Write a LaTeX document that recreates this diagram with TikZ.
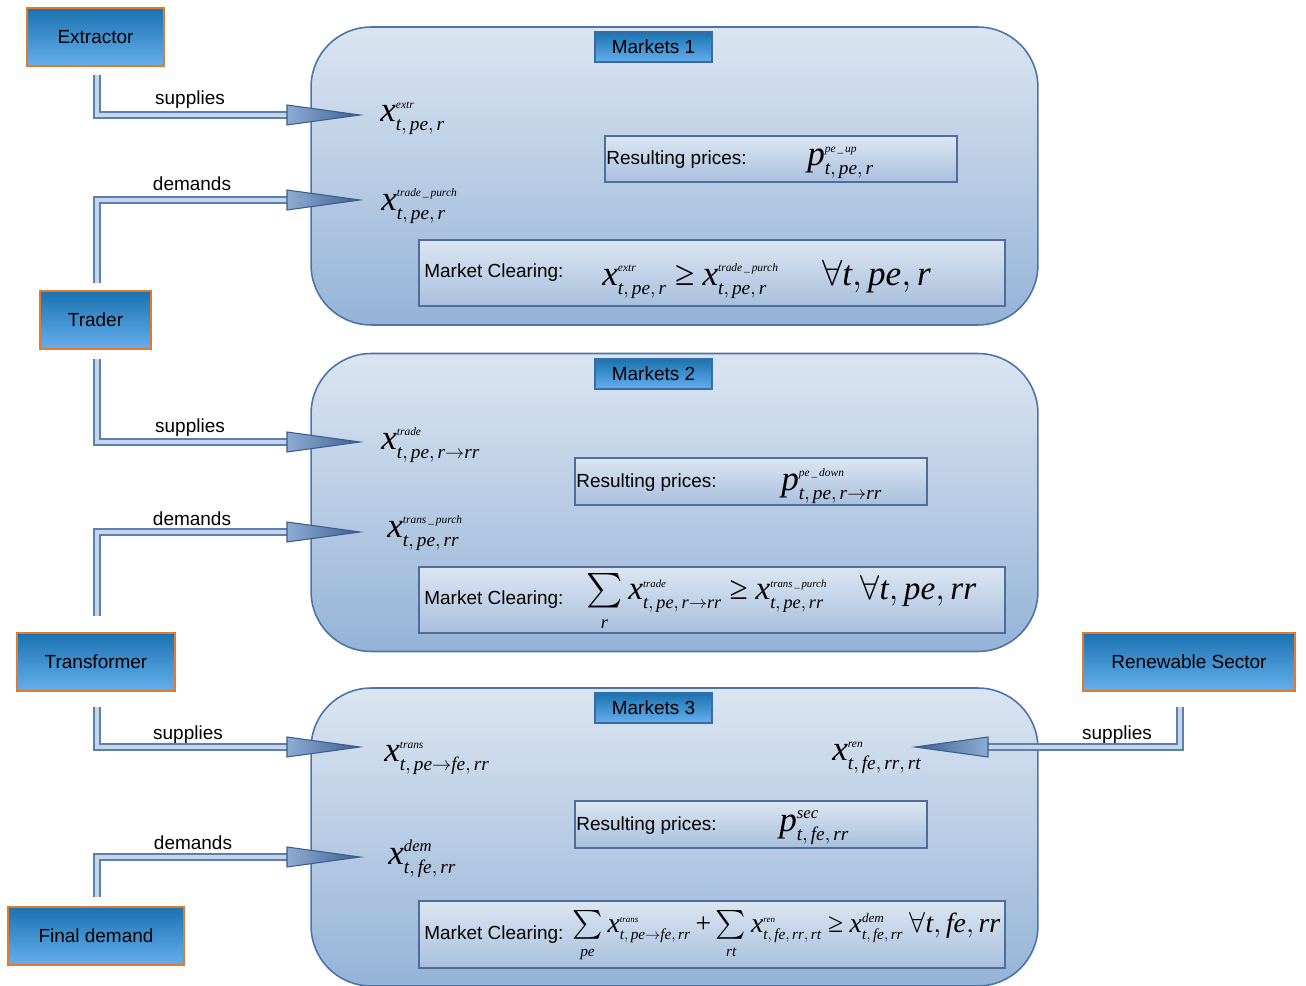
\documentclass[tikz,border=0pt]{standalone}
\usepackage{amsmath}
\usepackage{fontspec}
\setmainfont{Liberation Sans}
\newfontfamily\tms[NFSSFamily=tmsfam]{Liberation Serif}
\usetikzlibrary{calc}

% Times-like italic letters in the formulas
\DeclareSymbolFont{tmsletters}{TU}{tmsfam}{m}{it}
\DeclareMathSymbol{x}{\mathalpha}{tmsletters}{`x}
\DeclareMathSymbol{p}{\mathalpha}{tmsletters}{`p}
\DeclareMathSymbol{t}{\mathalpha}{tmsletters}{`t}
\DeclareMathSymbol{e}{\mathalpha}{tmsletters}{`e}
\DeclareMathSymbol{r}{\mathalpha}{tmsletters}{`r}
\DeclareMathSymbol{f}{\mathalpha}{tmsletters}{`f}
\DeclareMathSizes{20}{20}{11}{8}

\definecolor{actortop}{HTML}{1A73B0}
\definecolor{actorbot}{HTML}{66AEEE}
\definecolor{actorline}{HTML}{E27A2E}
\definecolor{titleline}{HTML}{3B6BA5}
\definecolor{mkttop}{HTML}{DBE5F1}
\definecolor{mktbot}{HTML}{95B3D7}
\definecolor{mktline}{HTML}{4A74AA}
\definecolor{boxtop}{HTML}{DCE6F2}
\definecolor{boxbot}{HTML}{A8BFDD}
\definecolor{boxline}{HTML}{4D6E9A}
\definecolor{shaftline}{HTML}{5A7FB0}
\definecolor{shaftfill}{HTML}{C5D5EA}
\definecolor{headlight}{HTML}{8EACD3}
\definecolor{headdark}{HTML}{3C5F91}
\definecolor{headline}{HTML}{3B5C8C}

\newcommand\mathsz{\fontsize{20}{22}\selectfont\thickmuskip=4mu\medmuskip=3mu}
\newcommand\tsup[1]{\text{\fontsize{6.5}{7}\selectfont\tms\itshape #1}}
\newcommand\bsup[1]{\text{\fontsize{9.5}{10}\selectfont\tms\itshape #1}}
\newcommand\tge{\mathrel{\text{\tms ≥}}}
\newcommand\tplus{\mathbin{\text{\tms +}}}

\tikzset{
  actor/.style={draw=actorline, line width=0.8pt, top color=actortop, bottom color=actorbot, minimum height=1.16cm, inner sep=2pt},
  market/.style={draw=mktline, line width=0.9pt, top color=mkttop, bottom color=mktbot, rounded corners=1.2cm, minimum width=14.54cm, minimum height=5.96cm},
  mkttitle/.style={draw=titleline, line width=0.8pt, top color=actortop, bottom color=actorbot, minimum width=2.34cm, minimum height=0.6cm, inner sep=1pt},
  infobox/.style={draw=boxline, line width=0.8pt, top color=boxtop, bottom color=boxbot},
  shaft/.style={draw=shaftline, line width=0.8pt, double=shaftfill, double distance=2.4pt},
  flowhead/.style={draw=headline, line width=0.6pt, left color=headlight, right color=headdark},
  varnode/.style={anchor=west, inner sep=0pt, font=\mathsz},
}

\begin{document}
\begin{tikzpicture}[x=0.02cm, y=-0.02cm, font=\fontsize{10.8}{13}\selectfont]
\useasboundingbox (0,0) rectangle (1306,986);

% markets
\node[market] (mkt1) at (674.5,176) {};
\node[market] (mkt2) at (674.5,502.5) {};
\node[market] (mkt3) at (674.5,837) {};
\node[mkttitle] (mt1) at (653.5,47) {Markets 1};
\node[mkttitle] (mt2) at (653.5,374) {Markets 2};
\node[mkttitle] (mt3) at (653.5,708) {Markets 3};

% prices and clearing
\node[infobox, minimum width=7.04cm, minimum height=0.92cm] (pr1) at (781,159) {};
\node[infobox, minimum width=7.04cm, minimum height=0.94cm] (pr2) at (751,481.5) {};
\node[infobox, minimum width=7.04cm, minimum height=0.94cm] (pr3) at (751,824.5) {};
\node[infobox, minimum width=11.72cm, minimum height=1.32cm] (cl1) at (712,273) {};
\node[infobox, minimum width=11.72cm, minimum height=1.32cm] (cl2) at (712,600) {};
\node[infobox, minimum width=11.72cm, minimum height=1.34cm] (cl3) at (712,934.5) {};

\node[anchor=west, inner sep=0pt] (rp1) at (606,160) {Resulting prices:};
\node[anchor=west, inner sep=0pt] (rp2) at (576,483) {Resulting prices:};
\node[anchor=west, inner sep=0pt] (rp3) at (576,826) {Resulting prices:};
\node[varnode] (pp1) at (807,163) {$p^{\tsup{pe\,\_\,up}}_{t,\,pe,\,r}$};
\node[varnode] (pp2) at (781,486) {$p^{\tsup{pe\,\_\,down}}_{t,\,pe,\,r\to rr}$};
\node[varnode] (pp3) at (779,828) {$p^{\bsup{sec}}_{t,\,fe,\,rr}$};

\node[anchor=west, inner sep=0pt] (mc1) at (424,273) {Market Clearing:};
\node[anchor=west, inner sep=0pt] (mc2) at (424,600) {Market Clearing:};
\node[anchor=west, inner sep=0pt] (mc3) at (424,935) {Market Clearing:};
\node[varnode] (eq1) at (602,279) {$x^{\tsup{extr}}_{t,\,pe,\,r} \tge x^{\tsup{trade\,\_\,purch}}_{t,\,pe,\,r} \quad\; \forall t, pe, r$};
\node[varnode] (eq2) at (586,603) {\resizebox{7.8cm}{!}{$\sum\limits_r x^{\tsup{trade}}_{t,\,pe,\,r\to rr} \tge x^{\tsup{trans\,\_\,purch}}_{t,\,pe,\,rr} \quad \forall t, pe, rr$}};
\node[varnode] (eq3) at (572,937) {\resizebox{8.56cm}{!}{$\sum\limits_{pe} x^{\tsup{trans}}_{t,\,pe\to fe,\,rr} \tplus \sum\limits_{rt} x^{\tsup{ren}}_{t,\,fe,\,rr,\,rt} \tge x^{\bsup{dem}}_{t,\,fe,\,rr}\; \forall t, fe, rr$}};

% variables
\node[varnode] (v1) at (380,118) {$x^{\tsup{extr}}_{t,\,pe,\,r}$};
\node[varnode] (v2) at (381,206) {$x^{\tsup{trade\,\_\,purch}}_{t,\,pe,\,r}$};
\node[varnode] (v3) at (381,445) {$x^{\tsup{trade}}_{t,\,pe,\,r\to rr}$};
\node[varnode] (v4) at (387,533) {$x^{\tsup{trans\,\_\,purch}}_{t,\,pe,\,rr}$};
\node[varnode] (v5) at (384,758) {$x^{\tsup{trans}}_{t,\,pe\to fe,\,rr}$};
\node[varnode] (v6) at (832,758) {$x^{\tsup{ren}}_{t,\,fe,\,rr,\,rt}$};
\node[varnode] (v7) at (388,859) {$x^{\bsup{dem}}_{t,\,fe,\,rr}$};

% actors
\node[actor, minimum width=2.74cm] (extr) at (95.5,37) {Extractor};
\node[actor, minimum width=2.22cm] (trader) at (95.5,320) {Trader};
\node[actor, minimum width=3.16cm] (transf) at (96,662) {Transformer};
\node[actor, minimum width=4.24cm] (renew) at (1189,662) {Renewable Sector};
\node[actor, minimum width=3.52cm] (findem) at (96,936) {Final demand};

% arrow tips
\coordinate (t1) at (360,115);
\coordinate (t2) at (360,200);
\coordinate (t3) at (360,442);
\coordinate (t4) at (360,532);
\coordinate (t5) at (360,747);
\coordinate (t6) at (360,857);
\coordinate (t7) at (915,747);

% flows
\draw[shaft] ($(extr.south)+(1.5,8)$) |- ($(t1)+(-70,0)$);
\draw[shaft] ($(trader.north)+(1.5,-7)$) |- ($(t2)+(-70,0)$);
\draw[shaft] ($(trader.south)+(1.5,9)$) |- ($(t3)+(-70,0)$);
\draw[shaft] ($(transf.north)+(1,-16)$) |- ($(t4)+(-70,0)$);
\draw[shaft] ($(transf.south)+(1,15)$) |- ($(t5)+(-70,0)$);
\draw[shaft] ($(findem.north)+(1,-9)$) |- ($(t6)+(-70,0)$);
\draw[shaft] ($(renew.south)+(-9,15)$) |- ($(t7)+(70,0)$);
\foreach \t in {t1,t2,t3,t4,t5,t6}
  \shade[flowhead] (\t) -- ++(-73,-10) -- ++(0,20) -- cycle;
\shade[flowhead, left color=headdark, right color=headlight] (t7) -- ++(73,-10) -- ++(0,20) -- cycle;

\node (lab1) at (190,100) {supplies};
\node (lab2) at (192,184) {demands};
\node (lab3) at (190,428) {supplies};
\node (lab4) at (192,519) {demands};
\node (lab5) at (188,735) {supplies};
\node (lab6) at (193,843) {demands};
\node (lab7) at (1117,735) {supplies};
\end{tikzpicture}
\end{document}
